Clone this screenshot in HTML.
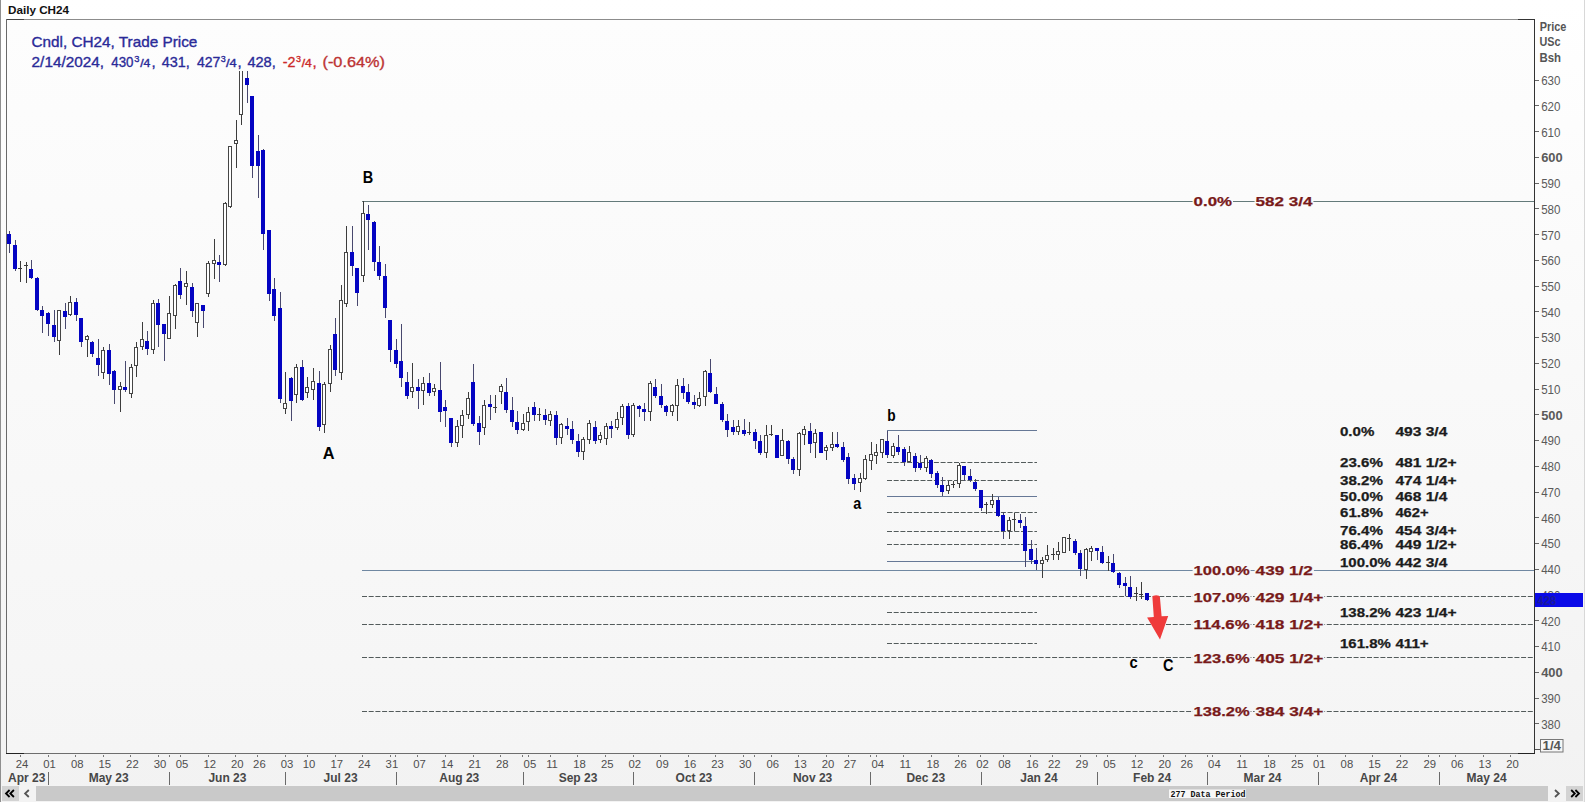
<!DOCTYPE html>
<html><head><meta charset="utf-8"><title>Daily CH24</title>
<style>html,body{margin:0;padding:0;background:#fff}body{width:1585px;height:802px;overflow:hidden}svg{display:block}text{font-family:"Liberation Sans",sans-serif}</style>
</head><body>
<svg width="1585" height="802" viewBox="0 0 1585 802">
<defs><linearGradient id="bg" x1="0" y1="0" x2="0" y2="1"><stop offset="0" stop-color="#ffffff"/><stop offset="1" stop-color="#f2f2f2"/></linearGradient><linearGradient id="cbg" gradientUnits="userSpaceOnUse" x1="0" y1="20" x2="0" y2="753"><stop offset="0" stop-color="#fdfdfd"/><stop offset="1" stop-color="#f5f5f5"/></linearGradient><clipPath id="plot"><rect x="7" y="20" width="1527" height="733"/></clipPath></defs>
<rect x="0" y="0" width="1585" height="802" fill="url(#bg)"/>
<rect x="0" y="0" width="1" height="802" fill="#8f8f8f"/>
<rect x="1584" y="0" width="1" height="802" fill="#d8d8d8"/>
<text x="8.0" y="14.0" font-size="11" fill="#111" font-weight="bold" textLength="61.0" lengthAdjust="spacingAndGlyphs">Daily CH24</text>
<rect x="7" y="20" width="1527" height="733" fill="url(#cbg)"/>
<rect x="362" y="201" width="1172" height="1" fill="#647a7a"/>
<rect x="362" y="570" width="1172" height="1" fill="#7088a2"/>
<line x1="362" y1="596.5" x2="1534" y2="596.5" stroke="#535b5b" stroke-width="1" stroke-dasharray="5 1.7"/>
<line x1="362" y1="624.5" x2="1534" y2="624.5" stroke="#535b5b" stroke-width="1" stroke-dasharray="5 1.7"/>
<line x1="362" y1="657.5" x2="1534" y2="657.5" stroke="#535b5b" stroke-width="1" stroke-dasharray="5 1.7"/>
<line x1="362" y1="711.5" x2="1534" y2="711.5" stroke="#535b5b" stroke-width="1" stroke-dasharray="5 1.7"/>
<rect x="887" y="430" width="150" height="1" fill="#667896"/>
<line x1="887" y1="462.5" x2="1037" y2="462.5" stroke="#535b5b" stroke-width="1" stroke-dasharray="5 1.7"/>
<line x1="887" y1="480.5" x2="1037" y2="480.5" stroke="#535b5b" stroke-width="1" stroke-dasharray="5 1.7"/>
<rect x="887" y="496" width="150" height="1" fill="#667896"/>
<line x1="887" y1="512.5" x2="1037" y2="512.5" stroke="#535b5b" stroke-width="1" stroke-dasharray="5 1.7"/>
<line x1="887" y1="531.5" x2="1037" y2="531.5" stroke="#535b5b" stroke-width="1" stroke-dasharray="5 1.7"/>
<line x1="887" y1="544.5" x2="1037" y2="544.5" stroke="#535b5b" stroke-width="1" stroke-dasharray="5 1.7"/>
<rect x="887" y="561" width="150" height="1" fill="#667896"/>
<line x1="887" y1="612.5" x2="1037" y2="612.5" stroke="#535b5b" stroke-width="1" stroke-dasharray="5 1.7"/>
<line x1="887" y1="643.5" x2="1037" y2="643.5" stroke="#535b5b" stroke-width="1" stroke-dasharray="5 1.7"/>
<g clip-path="url(#plot)" shape-rendering="crispEdges">
<rect x="9" y="231" width="1" height="22" fill="#48486e"/>
<rect x="7" y="234" width="4" height="10" fill="#0404c2"/>
<rect x="15" y="240" width="1" height="31" fill="#48486e"/>
<rect x="13" y="245" width="4" height="24" fill="#0404c2"/>
<rect x="20" y="261" width="1" height="21" fill="#3c3c3c"/>
<rect x="18" y="268" width="4" height="1" fill="#3c3c3c"/>
<rect x="26" y="262" width="1" height="21" fill="#3c3c3c"/>
<rect x="24" y="265" width="4" height="1" fill="#3c3c3c"/>
<rect x="31" y="260" width="1" height="19" fill="#48486e"/>
<rect x="29" y="269" width="4" height="9" fill="#0404c2"/>
<rect x="37" y="277" width="1" height="34" fill="#48486e"/>
<rect x="35" y="278" width="4" height="32" fill="#0404c2"/>
<rect x="42" y="306" width="1" height="27" fill="#48486e"/>
<rect x="40" y="310" width="4" height="6" fill="#0404c2"/>
<rect x="48" y="312" width="1" height="24" fill="#48486e"/>
<rect x="46" y="313" width="4" height="11" fill="#0404c2"/>
<rect x="54" y="310" width="1" height="32" fill="#48486e"/>
<rect x="52" y="325" width="4" height="12" fill="#0404c2"/>
<rect x="59" y="310" width="1" height="45" fill="#3c3c3c"/>
<rect x="57.5" y="310.5" width="3" height="30" fill="#ffffff" stroke="#454545" stroke-width="1"/>
<rect x="65" y="303" width="1" height="26" fill="#48486e"/>
<rect x="63" y="311" width="4" height="6" fill="#0404c2"/>
<rect x="70" y="296" width="1" height="20" fill="#3c3c3c"/>
<rect x="68.5" y="302.5" width="3" height="12" fill="#ffffff" stroke="#454545" stroke-width="1"/>
<rect x="76" y="298" width="1" height="23" fill="#48486e"/>
<rect x="74" y="302" width="4" height="13" fill="#0404c2"/>
<rect x="81" y="318" width="1" height="29" fill="#48486e"/>
<rect x="79" y="318" width="4" height="24" fill="#0404c2"/>
<rect x="87" y="335" width="1" height="22" fill="#3c3c3c"/>
<rect x="85.5" y="336.5" width="3" height="3" fill="#ffffff" stroke="#454545" stroke-width="1"/>
<rect x="92" y="341" width="1" height="16" fill="#48486e"/>
<rect x="90" y="342" width="4" height="12" fill="#0404c2"/>
<rect x="98" y="339" width="1" height="37" fill="#48486e"/>
<rect x="96" y="358" width="4" height="7" fill="#0404c2"/>
<rect x="103" y="347" width="1" height="32" fill="#3c3c3c"/>
<rect x="101.5" y="350.5" width="3" height="22" fill="#ffffff" stroke="#454545" stroke-width="1"/>
<rect x="109" y="344" width="1" height="41" fill="#48486e"/>
<rect x="107" y="350" width="4" height="24" fill="#0404c2"/>
<rect x="114" y="370" width="1" height="34" fill="#48486e"/>
<rect x="112" y="371" width="4" height="19" fill="#0404c2"/>
<rect x="120" y="382" width="1" height="30" fill="#3c3c3c"/>
<rect x="118.5" y="386.5" width="3" height="3" fill="#ffffff" stroke="#454545" stroke-width="1"/>
<rect x="125" y="361" width="1" height="31" fill="#48486e"/>
<rect x="123" y="387" width="4" height="3" fill="#0404c2"/>
<rect x="131" y="364" width="1" height="34" fill="#3c3c3c"/>
<rect x="129.5" y="367.5" width="3" height="26" fill="#ffffff" stroke="#454545" stroke-width="1"/>
<rect x="136" y="342" width="1" height="35" fill="#3c3c3c"/>
<rect x="134.5" y="347.5" width="3" height="18" fill="#ffffff" stroke="#454545" stroke-width="1"/>
<rect x="142" y="322" width="1" height="28" fill="#3c3c3c"/>
<rect x="140.5" y="339.5" width="3" height="7" fill="#ffffff" stroke="#454545" stroke-width="1"/>
<rect x="147" y="331" width="1" height="24" fill="#48486e"/>
<rect x="145" y="341" width="4" height="8" fill="#0404c2"/>
<rect x="153" y="300" width="1" height="54" fill="#3c3c3c"/>
<rect x="151.5" y="303.5" width="3" height="46" fill="#ffffff" stroke="#454545" stroke-width="1"/>
<rect x="158" y="299" width="1" height="48" fill="#48486e"/>
<rect x="156" y="303" width="4" height="22" fill="#0404c2"/>
<rect x="164" y="324" width="1" height="37" fill="#48486e"/>
<rect x="162" y="324" width="4" height="10" fill="#0404c2"/>
<rect x="169" y="296" width="1" height="43" fill="#3c3c3c"/>
<rect x="167.5" y="313.5" width="3" height="25" fill="#ffffff" stroke="#454545" stroke-width="1"/>
<rect x="175" y="284" width="1" height="45" fill="#3c3c3c"/>
<rect x="173.5" y="285.5" width="3" height="30" fill="#ffffff" stroke="#454545" stroke-width="1"/>
<rect x="180" y="268" width="1" height="31" fill="#48486e"/>
<rect x="178" y="281" width="4" height="14" fill="#0404c2"/>
<rect x="186" y="271" width="1" height="34" fill="#3c3c3c"/>
<rect x="184.5" y="283.5" width="3" height="3" fill="#ffffff" stroke="#454545" stroke-width="1"/>
<rect x="192" y="283" width="1" height="34" fill="#48486e"/>
<rect x="190" y="287" width="4" height="24" fill="#0404c2"/>
<rect x="197" y="303" width="1" height="34" fill="#3c3c3c"/>
<rect x="195.5" y="303.5" width="3" height="19" fill="#ffffff" stroke="#454545" stroke-width="1"/>
<rect x="203" y="305" width="1" height="23" fill="#48486e"/>
<rect x="201" y="305" width="4" height="6" fill="#0404c2"/>
<rect x="208" y="261" width="1" height="36" fill="#3c3c3c"/>
<rect x="206.5" y="263.5" width="3" height="30" fill="#ffffff" stroke="#454545" stroke-width="1"/>
<rect x="214" y="239" width="1" height="40" fill="#3c3c3c"/>
<rect x="212.5" y="260.5" width="3" height="3" fill="#ffffff" stroke="#454545" stroke-width="1"/>
<rect x="219" y="255" width="1" height="27" fill="#48486e"/>
<rect x="217" y="262" width="4" height="3" fill="#0404c2"/>
<rect x="225" y="202" width="1" height="64" fill="#3c3c3c"/>
<rect x="223.5" y="203.5" width="3" height="61" fill="#ffffff" stroke="#454545" stroke-width="1"/>
<rect x="230" y="146" width="1" height="62" fill="#3c3c3c"/>
<rect x="228.5" y="146.5" width="3" height="60" fill="#ffffff" stroke="#454545" stroke-width="1"/>
<rect x="236" y="120" width="1" height="48" fill="#3c3c3c"/>
<rect x="234.5" y="140.5" width="3" height="3" fill="#ffffff" stroke="#454545" stroke-width="1"/>
<rect x="241" y="55" width="1" height="70" fill="#3c3c3c"/>
<rect x="239.5" y="62.5" width="3" height="52" fill="#ffffff" stroke="#454545" stroke-width="1"/>
<rect x="247" y="68" width="1" height="35" fill="#48486e"/>
<rect x="245" y="78" width="4" height="7" fill="#0404c2"/>
<rect x="252" y="96" width="1" height="82" fill="#48486e"/>
<rect x="250" y="96" width="4" height="70" fill="#0404c2"/>
<rect x="258" y="135" width="1" height="63" fill="#48486e"/>
<rect x="256" y="151" width="4" height="15" fill="#0404c2"/>
<rect x="263" y="149" width="1" height="101" fill="#48486e"/>
<rect x="261" y="150" width="4" height="84" fill="#0404c2"/>
<rect x="269" y="230" width="1" height="71" fill="#48486e"/>
<rect x="267" y="230" width="4" height="64" fill="#0404c2"/>
<rect x="274" y="278" width="1" height="43" fill="#48486e"/>
<rect x="272" y="289" width="4" height="27" fill="#0404c2"/>
<rect x="280" y="292" width="1" height="111" fill="#48486e"/>
<rect x="278" y="308" width="4" height="91" fill="#0404c2"/>
<rect x="285" y="372" width="1" height="42" fill="#3c3c3c"/>
<rect x="283.5" y="403.5" width="3" height="5" fill="#ffffff" stroke="#454545" stroke-width="1"/>
<rect x="291" y="377" width="1" height="44" fill="#48486e"/>
<rect x="289" y="378" width="4" height="23" fill="#0404c2"/>
<rect x="296" y="364" width="1" height="39" fill="#3c3c3c"/>
<rect x="294.5" y="367.5" width="3" height="27" fill="#ffffff" stroke="#454545" stroke-width="1"/>
<rect x="302" y="360" width="1" height="41" fill="#48486e"/>
<rect x="300" y="367" width="4" height="33" fill="#0404c2"/>
<rect x="307" y="377" width="1" height="21" fill="#3c3c3c"/>
<rect x="305.5" y="387.5" width="3" height="5" fill="#ffffff" stroke="#454545" stroke-width="1"/>
<rect x="313" y="368" width="1" height="32" fill="#3c3c3c"/>
<rect x="311.5" y="381.5" width="3" height="8" fill="#ffffff" stroke="#454545" stroke-width="1"/>
<rect x="319" y="371" width="1" height="60" fill="#48486e"/>
<rect x="317" y="383" width="4" height="44" fill="#0404c2"/>
<rect x="324" y="382" width="1" height="51" fill="#3c3c3c"/>
<rect x="322.5" y="384.5" width="3" height="40" fill="#ffffff" stroke="#454545" stroke-width="1"/>
<rect x="330" y="345" width="1" height="47" fill="#3c3c3c"/>
<rect x="328.5" y="349.5" width="3" height="34" fill="#ffffff" stroke="#454545" stroke-width="1"/>
<rect x="335" y="318" width="1" height="58" fill="#48486e"/>
<rect x="333" y="334" width="4" height="36" fill="#0404c2"/>
<rect x="341" y="285" width="1" height="95" fill="#3c3c3c"/>
<rect x="339.5" y="300.5" width="3" height="72" fill="#ffffff" stroke="#454545" stroke-width="1"/>
<rect x="346" y="226" width="1" height="81" fill="#3c3c3c"/>
<rect x="344.5" y="252.5" width="3" height="51" fill="#ffffff" stroke="#454545" stroke-width="1"/>
<rect x="352" y="226" width="1" height="50" fill="#48486e"/>
<rect x="350" y="252" width="4" height="14" fill="#0404c2"/>
<rect x="357" y="268" width="1" height="38" fill="#48486e"/>
<rect x="355" y="268" width="4" height="25" fill="#0404c2"/>
<rect x="363" y="201" width="1" height="81" fill="#3c3c3c"/>
<rect x="361.5" y="213.5" width="3" height="62" fill="#ffffff" stroke="#454545" stroke-width="1"/>
<rect x="368" y="205" width="1" height="45" fill="#48486e"/>
<rect x="366" y="214" width="4" height="6" fill="#0404c2"/>
<rect x="374" y="221" width="1" height="50" fill="#48486e"/>
<rect x="372" y="222" width="4" height="40" fill="#0404c2"/>
<rect x="379" y="246" width="1" height="34" fill="#48486e"/>
<rect x="377" y="262" width="4" height="14" fill="#0404c2"/>
<rect x="385" y="264" width="1" height="54" fill="#48486e"/>
<rect x="383" y="276" width="4" height="32" fill="#0404c2"/>
<rect x="390" y="320" width="1" height="42" fill="#48486e"/>
<rect x="388" y="320" width="4" height="30" fill="#0404c2"/>
<rect x="396" y="339" width="1" height="29" fill="#48486e"/>
<rect x="394" y="350" width="4" height="14" fill="#0404c2"/>
<rect x="401" y="324" width="1" height="63" fill="#48486e"/>
<rect x="399" y="361" width="4" height="17" fill="#0404c2"/>
<rect x="407" y="372" width="1" height="27" fill="#48486e"/>
<rect x="405" y="382" width="4" height="14" fill="#0404c2"/>
<rect x="412" y="363" width="1" height="35" fill="#3c3c3c"/>
<rect x="410.5" y="387.5" width="3" height="4" fill="#ffffff" stroke="#454545" stroke-width="1"/>
<rect x="418" y="379" width="1" height="30" fill="#48486e"/>
<rect x="416" y="387" width="4" height="4" fill="#0404c2"/>
<rect x="423" y="377" width="1" height="28" fill="#3c3c3c"/>
<rect x="421.5" y="383.5" width="3" height="7" fill="#ffffff" stroke="#454545" stroke-width="1"/>
<rect x="429" y="373" width="1" height="23" fill="#48486e"/>
<rect x="427" y="383" width="4" height="10" fill="#0404c2"/>
<rect x="434" y="384" width="1" height="12" fill="#3c3c3c"/>
<rect x="432.5" y="388.5" width="3" height="3" fill="#ffffff" stroke="#454545" stroke-width="1"/>
<rect x="440" y="362" width="1" height="60" fill="#48486e"/>
<rect x="438" y="390" width="4" height="22" fill="#0404c2"/>
<rect x="445" y="400" width="1" height="27" fill="#48486e"/>
<rect x="443" y="407" width="4" height="4" fill="#0404c2"/>
<rect x="451" y="418" width="1" height="29" fill="#48486e"/>
<rect x="449" y="418" width="4" height="25" fill="#0404c2"/>
<rect x="457" y="420" width="1" height="27" fill="#3c3c3c"/>
<rect x="455.5" y="426.5" width="3" height="16" fill="#ffffff" stroke="#454545" stroke-width="1"/>
<rect x="462" y="410" width="1" height="28" fill="#3c3c3c"/>
<rect x="460.5" y="415.5" width="3" height="10" fill="#ffffff" stroke="#454545" stroke-width="1"/>
<rect x="468" y="392" width="1" height="27" fill="#3c3c3c"/>
<rect x="466.5" y="398.5" width="3" height="16" fill="#ffffff" stroke="#454545" stroke-width="1"/>
<rect x="473" y="364" width="1" height="62" fill="#48486e"/>
<rect x="471" y="382" width="4" height="42" fill="#0404c2"/>
<rect x="479" y="416" width="1" height="29" fill="#48486e"/>
<rect x="477" y="423" width="4" height="9" fill="#0404c2"/>
<rect x="484" y="400" width="1" height="35" fill="#3c3c3c"/>
<rect x="482.5" y="405.5" width="3" height="22" fill="#ffffff" stroke="#454545" stroke-width="1"/>
<rect x="490" y="395" width="1" height="25" fill="#48486e"/>
<rect x="488" y="404" width="4" height="3" fill="#0404c2"/>
<rect x="495" y="395" width="1" height="18" fill="#3c3c3c"/>
<rect x="493" y="407" width="4" height="1" fill="#3c3c3c"/>
<rect x="501" y="384" width="1" height="20" fill="#3c3c3c"/>
<rect x="499.5" y="386.5" width="3" height="5" fill="#ffffff" stroke="#454545" stroke-width="1"/>
<rect x="506" y="378" width="1" height="35" fill="#48486e"/>
<rect x="504" y="392" width="4" height="18" fill="#0404c2"/>
<rect x="512" y="397" width="1" height="30" fill="#48486e"/>
<rect x="510" y="410" width="4" height="12" fill="#0404c2"/>
<rect x="517" y="411" width="1" height="23" fill="#48486e"/>
<rect x="515" y="422" width="4" height="8" fill="#0404c2"/>
<rect x="523" y="414" width="1" height="17" fill="#3c3c3c"/>
<rect x="521.5" y="423.5" width="3" height="6" fill="#ffffff" stroke="#454545" stroke-width="1"/>
<rect x="528" y="407" width="1" height="24" fill="#3c3c3c"/>
<rect x="526.5" y="412.5" width="3" height="9" fill="#ffffff" stroke="#454545" stroke-width="1"/>
<rect x="534" y="402" width="1" height="19" fill="#48486e"/>
<rect x="532" y="407" width="4" height="8" fill="#0404c2"/>
<rect x="539" y="408" width="1" height="13" fill="#3c3c3c"/>
<rect x="537" y="414" width="4" height="1" fill="#3c3c3c"/>
<rect x="545" y="409" width="1" height="16" fill="#48486e"/>
<rect x="543" y="415" width="4" height="5" fill="#0404c2"/>
<rect x="550" y="411" width="1" height="15" fill="#3c3c3c"/>
<rect x="548.5" y="414.5" width="3" height="6" fill="#ffffff" stroke="#454545" stroke-width="1"/>
<rect x="556" y="411" width="1" height="34" fill="#48486e"/>
<rect x="554" y="415" width="4" height="23" fill="#0404c2"/>
<rect x="561" y="423" width="1" height="21" fill="#3c3c3c"/>
<rect x="559.5" y="424.5" width="3" height="13" fill="#ffffff" stroke="#454545" stroke-width="1"/>
<rect x="567" y="418" width="1" height="17" fill="#48486e"/>
<rect x="565" y="426" width="4" height="3" fill="#0404c2"/>
<rect x="572" y="421" width="1" height="23" fill="#48486e"/>
<rect x="570" y="429" width="4" height="11" fill="#0404c2"/>
<rect x="578" y="434" width="1" height="23" fill="#48486e"/>
<rect x="576" y="441" width="4" height="11" fill="#0404c2"/>
<rect x="583" y="437" width="1" height="23" fill="#3c3c3c"/>
<rect x="581.5" y="439.5" width="3" height="12" fill="#ffffff" stroke="#454545" stroke-width="1"/>
<rect x="589" y="420" width="1" height="24" fill="#3c3c3c"/>
<rect x="587.5" y="423.5" width="3" height="16" fill="#ffffff" stroke="#454545" stroke-width="1"/>
<rect x="595" y="421" width="1" height="23" fill="#48486e"/>
<rect x="593" y="427" width="4" height="14" fill="#0404c2"/>
<rect x="600" y="432" width="1" height="11" fill="#3c3c3c"/>
<rect x="598.5" y="435.5" width="3" height="4" fill="#ffffff" stroke="#454545" stroke-width="1"/>
<rect x="606" y="423" width="1" height="22" fill="#3c3c3c"/>
<rect x="604.5" y="426.5" width="3" height="12" fill="#ffffff" stroke="#454545" stroke-width="1"/>
<rect x="611" y="421" width="1" height="17" fill="#48486e"/>
<rect x="609" y="426" width="4" height="3" fill="#0404c2"/>
<rect x="617" y="412" width="1" height="18" fill="#3c3c3c"/>
<rect x="615.5" y="419.5" width="3" height="8" fill="#ffffff" stroke="#454545" stroke-width="1"/>
<rect x="622" y="404" width="1" height="21" fill="#3c3c3c"/>
<rect x="620.5" y="406.5" width="3" height="11" fill="#ffffff" stroke="#454545" stroke-width="1"/>
<rect x="628" y="403" width="1" height="36" fill="#48486e"/>
<rect x="626" y="406" width="4" height="29" fill="#0404c2"/>
<rect x="633" y="403" width="1" height="34" fill="#3c3c3c"/>
<rect x="631.5" y="405.5" width="3" height="29" fill="#ffffff" stroke="#454545" stroke-width="1"/>
<rect x="639" y="405" width="1" height="12" fill="#48486e"/>
<rect x="637" y="406" width="4" height="3" fill="#0404c2"/>
<rect x="644" y="403" width="1" height="18" fill="#48486e"/>
<rect x="642" y="409" width="4" height="3" fill="#0404c2"/>
<rect x="650" y="381" width="1" height="40" fill="#3c3c3c"/>
<rect x="648.5" y="383.5" width="3" height="28" fill="#ffffff" stroke="#454545" stroke-width="1"/>
<rect x="655" y="379" width="1" height="19" fill="#48486e"/>
<rect x="653" y="387" width="4" height="9" fill="#0404c2"/>
<rect x="661" y="384" width="1" height="24" fill="#48486e"/>
<rect x="659" y="396" width="4" height="9" fill="#0404c2"/>
<rect x="666" y="405" width="1" height="11" fill="#48486e"/>
<rect x="664" y="406" width="4" height="6" fill="#0404c2"/>
<rect x="672" y="404" width="1" height="12" fill="#3c3c3c"/>
<rect x="670.5" y="405.5" width="3" height="6" fill="#ffffff" stroke="#454545" stroke-width="1"/>
<rect x="677" y="379" width="1" height="42" fill="#3c3c3c"/>
<rect x="675.5" y="385.5" width="3" height="20" fill="#ffffff" stroke="#454545" stroke-width="1"/>
<rect x="683" y="378" width="1" height="21" fill="#48486e"/>
<rect x="681" y="386" width="4" height="7" fill="#0404c2"/>
<rect x="688" y="384" width="1" height="20" fill="#48486e"/>
<rect x="686" y="392" width="4" height="10" fill="#0404c2"/>
<rect x="694" y="395" width="1" height="14" fill="#48486e"/>
<rect x="692" y="402" width="4" height="3" fill="#0404c2"/>
<rect x="699" y="392" width="1" height="15" fill="#3c3c3c"/>
<rect x="697.5" y="398.5" width="3" height="7" fill="#ffffff" stroke="#454545" stroke-width="1"/>
<rect x="705" y="370" width="1" height="36" fill="#3c3c3c"/>
<rect x="703.5" y="371.5" width="3" height="25" fill="#ffffff" stroke="#454545" stroke-width="1"/>
<rect x="710" y="359" width="1" height="34" fill="#48486e"/>
<rect x="708" y="373" width="4" height="19" fill="#0404c2"/>
<rect x="716" y="387" width="1" height="17" fill="#48486e"/>
<rect x="714" y="394" width="4" height="10" fill="#0404c2"/>
<rect x="722" y="402" width="1" height="20" fill="#48486e"/>
<rect x="720" y="404" width="4" height="16" fill="#0404c2"/>
<rect x="727" y="414" width="1" height="23" fill="#48486e"/>
<rect x="725" y="421" width="4" height="9" fill="#0404c2"/>
<rect x="733" y="420" width="1" height="15" fill="#48486e"/>
<rect x="731" y="427" width="4" height="5" fill="#0404c2"/>
<rect x="738" y="420" width="1" height="15" fill="#3c3c3c"/>
<rect x="736.5" y="426.5" width="3" height="5" fill="#ffffff" stroke="#454545" stroke-width="1"/>
<rect x="744" y="419" width="1" height="17" fill="#48486e"/>
<rect x="742" y="430" width="4" height="4" fill="#0404c2"/>
<rect x="749" y="422" width="1" height="13" fill="#3c3c3c"/>
<rect x="747" y="432" width="4" height="1" fill="#3c3c3c"/>
<rect x="755" y="429" width="1" height="20" fill="#48486e"/>
<rect x="753" y="432" width="4" height="9" fill="#0404c2"/>
<rect x="760" y="435" width="1" height="20" fill="#48486e"/>
<rect x="758" y="441" width="4" height="12" fill="#0404c2"/>
<rect x="766" y="425" width="1" height="33" fill="#3c3c3c"/>
<rect x="764.5" y="435.5" width="3" height="17" fill="#ffffff" stroke="#454545" stroke-width="1"/>
<rect x="771" y="425" width="1" height="11" fill="#3c3c3c"/>
<rect x="769" y="434" width="4" height="1" fill="#3c3c3c"/>
<rect x="777" y="435" width="1" height="23" fill="#48486e"/>
<rect x="775" y="435" width="4" height="23" fill="#0404c2"/>
<rect x="782" y="429" width="1" height="27" fill="#3c3c3c"/>
<rect x="780.5" y="440.5" width="3" height="15" fill="#ffffff" stroke="#454545" stroke-width="1"/>
<rect x="788" y="440" width="1" height="24" fill="#48486e"/>
<rect x="786" y="441" width="4" height="18" fill="#0404c2"/>
<rect x="793" y="457" width="1" height="17" fill="#48486e"/>
<rect x="791" y="459" width="4" height="11" fill="#0404c2"/>
<rect x="799" y="432" width="1" height="44" fill="#3c3c3c"/>
<rect x="797.5" y="433.5" width="3" height="36" fill="#ffffff" stroke="#454545" stroke-width="1"/>
<rect x="804" y="426" width="1" height="19" fill="#3c3c3c"/>
<rect x="802.5" y="429.5" width="3" height="5" fill="#ffffff" stroke="#454545" stroke-width="1"/>
<rect x="810" y="423" width="1" height="30" fill="#48486e"/>
<rect x="808" y="431" width="4" height="13" fill="#0404c2"/>
<rect x="815" y="429" width="1" height="29" fill="#3c3c3c"/>
<rect x="813.5" y="433.5" width="3" height="9" fill="#ffffff" stroke="#454545" stroke-width="1"/>
<rect x="821" y="432" width="1" height="21" fill="#48486e"/>
<rect x="819" y="432" width="4" height="21" fill="#0404c2"/>
<rect x="826" y="445" width="1" height="15" fill="#3c3c3c"/>
<rect x="824.5" y="447.5" width="3" height="3" fill="#ffffff" stroke="#454545" stroke-width="1"/>
<rect x="832" y="432" width="1" height="19" fill="#3c3c3c"/>
<rect x="830.5" y="444.5" width="3" height="3" fill="#ffffff" stroke="#454545" stroke-width="1"/>
<rect x="837" y="432" width="1" height="16" fill="#48486e"/>
<rect x="835" y="444" width="4" height="3" fill="#0404c2"/>
<rect x="843" y="442" width="1" height="20" fill="#48486e"/>
<rect x="841" y="447" width="4" height="13" fill="#0404c2"/>
<rect x="848" y="453" width="1" height="31" fill="#48486e"/>
<rect x="846" y="457" width="4" height="22" fill="#0404c2"/>
<rect x="854" y="474" width="1" height="16" fill="#48486e"/>
<rect x="852" y="478" width="4" height="6" fill="#0404c2"/>
<rect x="860" y="473" width="1" height="19" fill="#3c3c3c"/>
<rect x="858.5" y="478.5" width="3" height="4" fill="#ffffff" stroke="#454545" stroke-width="1"/>
<rect x="865" y="455" width="1" height="25" fill="#3c3c3c"/>
<rect x="863.5" y="459.5" width="3" height="19" fill="#ffffff" stroke="#454545" stroke-width="1"/>
<rect x="871" y="442" width="1" height="28" fill="#3c3c3c"/>
<rect x="869.5" y="454.5" width="3" height="6" fill="#ffffff" stroke="#454545" stroke-width="1"/>
<rect x="876" y="444" width="1" height="20" fill="#3c3c3c"/>
<rect x="874.5" y="452.5" width="3" height="3" fill="#ffffff" stroke="#454545" stroke-width="1"/>
<rect x="882" y="439" width="1" height="19" fill="#3c3c3c"/>
<rect x="880.5" y="439.5" width="3" height="13" fill="#ffffff" stroke="#454545" stroke-width="1"/>
<rect x="887" y="431" width="1" height="27" fill="#48486e"/>
<rect x="885" y="441" width="4" height="14" fill="#0404c2"/>
<rect x="893" y="443" width="1" height="15" fill="#3c3c3c"/>
<rect x="891.5" y="446.5" width="3" height="9" fill="#ffffff" stroke="#454545" stroke-width="1"/>
<rect x="898" y="435" width="1" height="20" fill="#48486e"/>
<rect x="896" y="447" width="4" height="5" fill="#0404c2"/>
<rect x="904" y="447" width="1" height="19" fill="#48486e"/>
<rect x="902" y="449" width="4" height="13" fill="#0404c2"/>
<rect x="909" y="446" width="1" height="16" fill="#3c3c3c"/>
<rect x="907.5" y="452.5" width="3" height="9" fill="#ffffff" stroke="#454545" stroke-width="1"/>
<rect x="915" y="453" width="1" height="19" fill="#48486e"/>
<rect x="913" y="456" width="4" height="12" fill="#0404c2"/>
<rect x="920" y="455" width="1" height="15" fill="#48486e"/>
<rect x="918" y="463" width="4" height="5" fill="#0404c2"/>
<rect x="926" y="456" width="1" height="16" fill="#3c3c3c"/>
<rect x="924.5" y="458.5" width="3" height="9" fill="#ffffff" stroke="#454545" stroke-width="1"/>
<rect x="931" y="459" width="1" height="19" fill="#48486e"/>
<rect x="929" y="460" width="4" height="14" fill="#0404c2"/>
<rect x="937" y="471" width="1" height="17" fill="#48486e"/>
<rect x="935" y="473" width="4" height="12" fill="#0404c2"/>
<rect x="942" y="477" width="1" height="19" fill="#48486e"/>
<rect x="940" y="485" width="4" height="7" fill="#0404c2"/>
<rect x="948" y="481" width="1" height="13" fill="#3c3c3c"/>
<rect x="946.5" y="485.5" width="3" height="5" fill="#ffffff" stroke="#454545" stroke-width="1"/>
<rect x="953" y="481" width="1" height="7" fill="#3c3c3c"/>
<rect x="951" y="484" width="4" height="1" fill="#3c3c3c"/>
<rect x="959" y="463" width="1" height="25" fill="#3c3c3c"/>
<rect x="957.5" y="465.5" width="3" height="18" fill="#ffffff" stroke="#454545" stroke-width="1"/>
<rect x="964" y="466" width="1" height="15" fill="#48486e"/>
<rect x="962" y="466" width="4" height="9" fill="#0404c2"/>
<rect x="970" y="469" width="1" height="13" fill="#48486e"/>
<rect x="968" y="476" width="4" height="4" fill="#0404c2"/>
<rect x="975" y="479" width="1" height="12" fill="#48486e"/>
<rect x="973" y="482" width="4" height="7" fill="#0404c2"/>
<rect x="981" y="490" width="1" height="21" fill="#48486e"/>
<rect x="979" y="490" width="4" height="18" fill="#0404c2"/>
<rect x="986" y="502" width="1" height="12" fill="#3c3c3c"/>
<rect x="984" y="504" width="4" height="1" fill="#3c3c3c"/>
<rect x="992" y="494" width="1" height="14" fill="#3c3c3c"/>
<rect x="990.5" y="500.5" width="3" height="4" fill="#ffffff" stroke="#454545" stroke-width="1"/>
<rect x="998" y="497" width="1" height="20" fill="#48486e"/>
<rect x="996" y="500" width="4" height="16" fill="#0404c2"/>
<rect x="1003" y="512" width="1" height="27" fill="#48486e"/>
<rect x="1001" y="515" width="4" height="16" fill="#0404c2"/>
<rect x="1009" y="517" width="1" height="22" fill="#3c3c3c"/>
<rect x="1007.5" y="520.5" width="3" height="10" fill="#ffffff" stroke="#454545" stroke-width="1"/>
<rect x="1014" y="513" width="1" height="18" fill="#3c3c3c"/>
<rect x="1012" y="519" width="4" height="1" fill="#3c3c3c"/>
<rect x="1020" y="514" width="1" height="14" fill="#48486e"/>
<rect x="1018" y="520" width="4" height="3" fill="#0404c2"/>
<rect x="1025" y="517" width="1" height="50" fill="#48486e"/>
<rect x="1023" y="526" width="4" height="25" fill="#0404c2"/>
<rect x="1031" y="540" width="1" height="24" fill="#48486e"/>
<rect x="1029" y="549" width="4" height="11" fill="#0404c2"/>
<rect x="1036" y="548" width="1" height="22" fill="#48486e"/>
<rect x="1034" y="560" width="4" height="4" fill="#0404c2"/>
<rect x="1042" y="557" width="1" height="21" fill="#3c3c3c"/>
<rect x="1040.5" y="560.5" width="3" height="3" fill="#ffffff" stroke="#454545" stroke-width="1"/>
<rect x="1047" y="545" width="1" height="17" fill="#3c3c3c"/>
<rect x="1045.5" y="555.5" width="3" height="4" fill="#ffffff" stroke="#454545" stroke-width="1"/>
<rect x="1053" y="548" width="1" height="12" fill="#3c3c3c"/>
<rect x="1051" y="554" width="4" height="1" fill="#3c3c3c"/>
<rect x="1058" y="542" width="1" height="18" fill="#3c3c3c"/>
<rect x="1056.5" y="551.5" width="3" height="3" fill="#ffffff" stroke="#454545" stroke-width="1"/>
<rect x="1064" y="537" width="1" height="16" fill="#3c3c3c"/>
<rect x="1062.5" y="537.5" width="3" height="15" fill="#ffffff" stroke="#454545" stroke-width="1"/>
<rect x="1069" y="534" width="1" height="17" fill="#3c3c3c"/>
<rect x="1067" y="538" width="4" height="1" fill="#3c3c3c"/>
<rect x="1075" y="539" width="1" height="16" fill="#48486e"/>
<rect x="1073" y="541" width="4" height="12" fill="#0404c2"/>
<rect x="1080" y="550" width="1" height="26" fill="#48486e"/>
<rect x="1078" y="553" width="4" height="16" fill="#0404c2"/>
<rect x="1086" y="548" width="1" height="31" fill="#3c3c3c"/>
<rect x="1084.5" y="549.5" width="3" height="20" fill="#ffffff" stroke="#454545" stroke-width="1"/>
<rect x="1091" y="546" width="1" height="15" fill="#3c3c3c"/>
<rect x="1089.5" y="548.5" width="3" height="3" fill="#ffffff" stroke="#454545" stroke-width="1"/>
<rect x="1097" y="548" width="1" height="12" fill="#48486e"/>
<rect x="1095" y="548" width="4" height="3" fill="#0404c2"/>
<rect x="1102" y="546" width="1" height="18" fill="#48486e"/>
<rect x="1100" y="552" width="4" height="11" fill="#0404c2"/>
<rect x="1108" y="556" width="1" height="15" fill="#3c3c3c"/>
<rect x="1106" y="562" width="4" height="1" fill="#3c3c3c"/>
<rect x="1113" y="554" width="1" height="19" fill="#48486e"/>
<rect x="1111" y="563" width="4" height="9" fill="#0404c2"/>
<rect x="1119" y="572" width="1" height="16" fill="#48486e"/>
<rect x="1117" y="573" width="4" height="12" fill="#0404c2"/>
<rect x="1125" y="577" width="1" height="19" fill="#48486e"/>
<rect x="1123" y="583" width="4" height="3" fill="#0404c2"/>
<rect x="1130" y="576" width="1" height="23" fill="#48486e"/>
<rect x="1128" y="587" width="4" height="10" fill="#0404c2"/>
<rect x="1136" y="587" width="1" height="14" fill="#3c3c3c"/>
<rect x="1134" y="593" width="4" height="1" fill="#3c3c3c"/>
<rect x="1141" y="582" width="1" height="17" fill="#3c3c3c"/>
<rect x="1139" y="594" width="4" height="1" fill="#3c3c3c"/>
<rect x="1147" y="593" width="1" height="8" fill="#48486e"/>
<rect x="1145" y="593" width="4" height="7" fill="#0404c2"/>
</g>
<rect x="28" y="28" width="362" height="43" fill="url(#cbg)"/>
<g stroke="#2a2a98" stroke-width="0.35">
<text x="31.4" y="46.5" font-size="15" fill="#2a2a98" textLength="166.0" lengthAdjust="spacingAndGlyphs">Cndl, CH24, Trade Price</text>
<text x="31.6" y="66.6" font-size="15" fill="#2a2a98" textLength="72.5" lengthAdjust="spacingAndGlyphs">2/14/2024,</text>
<text x="111.3" y="66.6" font-size="15" fill="#2a2a98" textLength="22.2" lengthAdjust="spacingAndGlyphs">430</text>
<text x="134.3" y="62.2" font-size="9.5" fill="#2a2a98" textLength="5.2" lengthAdjust="spacingAndGlyphs">3</text>
<text x="140.2" y="66.6" font-size="10" fill="#2a2a98" textLength="10.2" lengthAdjust="spacingAndGlyphs">/4</text>
<text x="151.5" y="66.6" font-size="15" fill="#2a2a98">,</text>
<text x="161.7" y="66.6" font-size="15" fill="#2a2a98" textLength="28.1" lengthAdjust="spacingAndGlyphs">431,</text>
<text x="196.9" y="66.6" font-size="15" fill="#2a2a98" textLength="23.4" lengthAdjust="spacingAndGlyphs">427</text>
<text x="220.7" y="62.2" font-size="9.5" fill="#2a2a98" textLength="5.0" lengthAdjust="spacingAndGlyphs">3</text>
<text x="226.0" y="66.6" font-size="10" fill="#2a2a98" textLength="10.7" lengthAdjust="spacingAndGlyphs">/4</text>
<text x="237.5" y="66.6" font-size="15" fill="#2a2a98">,</text>
<text x="247.4" y="66.6" font-size="15" fill="#2a2a98" textLength="28.4" lengthAdjust="spacingAndGlyphs">428,</text>
<text x="282.7" y="66.6" font-size="15" fill="#cc2a2a" textLength="12.7" lengthAdjust="spacingAndGlyphs" stroke="#cc2a2a">-2</text>
<text x="296.0" y="62.2" font-size="9.5" fill="#cc2a2a" textLength="5.0" lengthAdjust="spacingAndGlyphs" stroke="#cc2a2a">3</text>
<text x="301.7" y="66.6" font-size="10" fill="#cc2a2a" textLength="10.1" lengthAdjust="spacingAndGlyphs" stroke="#cc2a2a">/4</text>
<text x="312.6" y="66.6" font-size="15" fill="#cc2a2a" stroke="#cc2a2a">,</text>
<text x="322.5" y="66.6" font-size="15" fill="#c03434" textLength="62.5" lengthAdjust="spacingAndGlyphs" stroke="#b83232">(-0.64%)</text>
</g>
<rect x="6" y="19" width="1529" height="1" fill="#8c8c8c"/>
<rect x="6" y="19" width="18" height="1" fill="#444"/>
<rect x="1518" y="19" width="17" height="1" fill="#333"/>
<rect x="6" y="19" width="1" height="735" fill="#6a6a6a"/>
<rect x="1534" y="19" width="1" height="735" fill="#333"/>
<rect x="6" y="753" width="1529" height="1" fill="#6e6e6e"/>
<rect x="6" y="753" width="18" height="1" fill="#222"/>
<rect x="1518" y="753" width="17" height="1" fill="#222"/>
<rect x="1535" y="723" width="4" height="1" fill="#666"/>
<text x="1541.2" y="728.6" font-size="12" fill="#5a5a5a" textLength="19.3" lengthAdjust="spacingAndGlyphs">380</text>
<rect x="1535" y="698" width="4" height="1" fill="#666"/>
<text x="1541.2" y="702.8" font-size="12" fill="#5a5a5a" textLength="19.3" lengthAdjust="spacingAndGlyphs">390</text>
<rect x="1535" y="672" width="4" height="1" fill="#666"/>
<text x="1541.2" y="677.1" font-size="12" fill="#5a5a5a" font-weight="bold" textLength="21.5" lengthAdjust="spacingAndGlyphs">400</text>
<rect x="1535" y="646" width="4" height="1" fill="#666"/>
<text x="1541.2" y="651.3" font-size="12" fill="#5a5a5a" textLength="19.3" lengthAdjust="spacingAndGlyphs">410</text>
<rect x="1535" y="620" width="4" height="1" fill="#666"/>
<text x="1541.2" y="625.6" font-size="12" fill="#5a5a5a" textLength="19.3" lengthAdjust="spacingAndGlyphs">420</text>
<rect x="1535" y="595" width="4" height="1" fill="#666"/>
<text x="1541.2" y="599.9" font-size="12" fill="#5a5a5a" textLength="19.3" lengthAdjust="spacingAndGlyphs">430</text>
<rect x="1535" y="569" width="4" height="1" fill="#666"/>
<text x="1541.2" y="574.1" font-size="12" fill="#5a5a5a" textLength="19.3" lengthAdjust="spacingAndGlyphs">440</text>
<rect x="1535" y="543" width="4" height="1" fill="#666"/>
<text x="1541.2" y="548.4" font-size="12" fill="#5a5a5a" textLength="19.3" lengthAdjust="spacingAndGlyphs">450</text>
<rect x="1535" y="517" width="4" height="1" fill="#666"/>
<text x="1541.2" y="522.6" font-size="12" fill="#5a5a5a" textLength="19.3" lengthAdjust="spacingAndGlyphs">460</text>
<rect x="1535" y="492" width="4" height="1" fill="#666"/>
<text x="1541.2" y="496.9" font-size="12" fill="#5a5a5a" textLength="19.3" lengthAdjust="spacingAndGlyphs">470</text>
<rect x="1535" y="466" width="4" height="1" fill="#666"/>
<text x="1541.2" y="471.1" font-size="12" fill="#5a5a5a" textLength="19.3" lengthAdjust="spacingAndGlyphs">480</text>
<rect x="1535" y="440" width="4" height="1" fill="#666"/>
<text x="1541.2" y="445.4" font-size="12" fill="#5a5a5a" textLength="19.3" lengthAdjust="spacingAndGlyphs">490</text>
<rect x="1535" y="414" width="4" height="1" fill="#666"/>
<text x="1541.2" y="419.7" font-size="12" fill="#5a5a5a" font-weight="bold" textLength="21.5" lengthAdjust="spacingAndGlyphs">500</text>
<rect x="1535" y="389" width="4" height="1" fill="#666"/>
<text x="1541.2" y="393.9" font-size="12" fill="#5a5a5a" textLength="19.3" lengthAdjust="spacingAndGlyphs">510</text>
<rect x="1535" y="363" width="4" height="1" fill="#666"/>
<text x="1541.2" y="368.2" font-size="12" fill="#5a5a5a" textLength="19.3" lengthAdjust="spacingAndGlyphs">520</text>
<rect x="1535" y="337" width="4" height="1" fill="#666"/>
<text x="1541.2" y="342.4" font-size="12" fill="#5a5a5a" textLength="19.3" lengthAdjust="spacingAndGlyphs">530</text>
<rect x="1535" y="311" width="4" height="1" fill="#666"/>
<text x="1541.2" y="316.7" font-size="12" fill="#5a5a5a" textLength="19.3" lengthAdjust="spacingAndGlyphs">540</text>
<rect x="1535" y="286" width="4" height="1" fill="#666"/>
<text x="1541.2" y="290.9" font-size="12" fill="#5a5a5a" textLength="19.3" lengthAdjust="spacingAndGlyphs">550</text>
<rect x="1535" y="260" width="4" height="1" fill="#666"/>
<text x="1541.2" y="265.2" font-size="12" fill="#5a5a5a" textLength="19.3" lengthAdjust="spacingAndGlyphs">560</text>
<rect x="1535" y="234" width="4" height="1" fill="#666"/>
<text x="1541.2" y="239.5" font-size="12" fill="#5a5a5a" textLength="19.3" lengthAdjust="spacingAndGlyphs">570</text>
<rect x="1535" y="208" width="4" height="1" fill="#666"/>
<text x="1541.2" y="213.7" font-size="12" fill="#5a5a5a" textLength="19.3" lengthAdjust="spacingAndGlyphs">580</text>
<rect x="1535" y="183" width="4" height="1" fill="#666"/>
<text x="1541.2" y="188.0" font-size="12" fill="#5a5a5a" textLength="19.3" lengthAdjust="spacingAndGlyphs">590</text>
<rect x="1535" y="157" width="4" height="1" fill="#666"/>
<text x="1541.2" y="162.2" font-size="12" fill="#5a5a5a" font-weight="bold" textLength="21.5" lengthAdjust="spacingAndGlyphs">600</text>
<rect x="1535" y="131" width="4" height="1" fill="#666"/>
<text x="1541.2" y="136.5" font-size="12" fill="#5a5a5a" textLength="19.3" lengthAdjust="spacingAndGlyphs">610</text>
<rect x="1535" y="105" width="4" height="1" fill="#666"/>
<text x="1541.2" y="110.7" font-size="12" fill="#5a5a5a" textLength="19.3" lengthAdjust="spacingAndGlyphs">620</text>
<rect x="1535" y="80" width="4" height="1" fill="#666"/>
<text x="1541.2" y="85.0" font-size="12" fill="#5a5a5a" textLength="19.3" lengthAdjust="spacingAndGlyphs">630</text>
<rect x="1535" y="749" width="6" height="1" fill="#555"/>
<rect x="1540.5" y="739.5" width="22.5" height="12.5" fill="#f7f7f7" stroke="#777" stroke-width="1"/>
<text x="1542.5" y="749.8" font-size="12" fill="#555" font-weight="bold" textLength="18.5" lengthAdjust="spacingAndGlyphs">1/4</text>
<text x="1539.8" y="30.7" font-size="12" fill="#555" font-weight="bold" textLength="26.6" lengthAdjust="spacingAndGlyphs">Price</text>
<text x="1539.5" y="46.4" font-size="12" fill="#555" font-weight="bold" textLength="21.0" lengthAdjust="spacingAndGlyphs">USc</text>
<text x="1539.5" y="62.0" font-size="12" fill="#555" font-weight="bold" textLength="21.5" lengthAdjust="spacingAndGlyphs">Bsh</text>
<rect x="1535" y="593" width="48" height="14" fill="#0a0ae8"/>
<text x="1537.0" y="604.5" font-size="12" fill="#1a1a9a" font-weight="bold" textLength="19.3" lengthAdjust="spacingAndGlyphs">428</text>
<rect x="20" y="755" width="1" height="2" fill="#777"/>
<text x="22.0" y="767.9" font-size="11.3" fill="#4e4e4e" text-anchor="middle">24</text>
<rect x="48" y="755" width="1" height="2" fill="#777"/>
<text x="49.6" y="767.9" font-size="11.3" fill="#4e4e4e" text-anchor="middle">01</text>
<rect x="75" y="755" width="1" height="2" fill="#777"/>
<text x="77.2" y="767.9" font-size="11.3" fill="#4e4e4e" text-anchor="middle">08</text>
<rect x="103" y="755" width="1" height="2" fill="#777"/>
<text x="104.8" y="767.9" font-size="11.3" fill="#4e4e4e" text-anchor="middle">15</text>
<rect x="130" y="755" width="1" height="2" fill="#777"/>
<text x="132.4" y="767.9" font-size="11.3" fill="#4e4e4e" text-anchor="middle">22</text>
<rect x="158" y="755" width="1" height="2" fill="#777"/>
<text x="160.0" y="767.9" font-size="11.3" fill="#4e4e4e" text-anchor="middle">30</text>
<rect x="180" y="755" width="1" height="2" fill="#777"/>
<text x="182.1" y="767.9" font-size="11.3" fill="#4e4e4e" text-anchor="middle">05</text>
<rect x="208" y="755" width="1" height="2" fill="#777"/>
<text x="209.7" y="767.9" font-size="11.3" fill="#4e4e4e" text-anchor="middle">12</text>
<rect x="235" y="755" width="1" height="2" fill="#777"/>
<text x="237.3" y="767.9" font-size="11.3" fill="#4e4e4e" text-anchor="middle">20</text>
<rect x="257" y="755" width="1" height="2" fill="#777"/>
<text x="259.4" y="767.9" font-size="11.3" fill="#4e4e4e" text-anchor="middle">26</text>
<rect x="285" y="755" width="1" height="2" fill="#777"/>
<text x="287.0" y="767.9" font-size="11.3" fill="#4e4e4e" text-anchor="middle">03</text>
<rect x="307" y="755" width="1" height="2" fill="#777"/>
<text x="309.1" y="767.9" font-size="11.3" fill="#4e4e4e" text-anchor="middle">10</text>
<rect x="335" y="755" width="1" height="2" fill="#777"/>
<text x="336.7" y="767.9" font-size="11.3" fill="#4e4e4e" text-anchor="middle">17</text>
<rect x="362" y="755" width="1" height="2" fill="#777"/>
<text x="364.3" y="767.9" font-size="11.3" fill="#4e4e4e" text-anchor="middle">24</text>
<rect x="390" y="755" width="1" height="2" fill="#777"/>
<text x="391.9" y="767.9" font-size="11.3" fill="#4e4e4e" text-anchor="middle">31</text>
<rect x="417" y="755" width="1" height="2" fill="#777"/>
<text x="419.5" y="767.9" font-size="11.3" fill="#4e4e4e" text-anchor="middle">07</text>
<rect x="445" y="755" width="1" height="2" fill="#777"/>
<text x="447.1" y="767.9" font-size="11.3" fill="#4e4e4e" text-anchor="middle">14</text>
<rect x="473" y="755" width="1" height="2" fill="#777"/>
<text x="474.7" y="767.9" font-size="11.3" fill="#4e4e4e" text-anchor="middle">21</text>
<rect x="500" y="755" width="1" height="2" fill="#777"/>
<text x="502.3" y="767.9" font-size="11.3" fill="#4e4e4e" text-anchor="middle">28</text>
<rect x="528" y="755" width="1" height="2" fill="#777"/>
<text x="529.9" y="767.9" font-size="11.3" fill="#4e4e4e" text-anchor="middle">05</text>
<rect x="550" y="755" width="1" height="2" fill="#777"/>
<text x="552.0" y="767.9" font-size="11.3" fill="#4e4e4e" text-anchor="middle">11</text>
<rect x="577" y="755" width="1" height="2" fill="#777"/>
<text x="579.6" y="767.9" font-size="11.3" fill="#4e4e4e" text-anchor="middle">18</text>
<rect x="605" y="755" width="1" height="2" fill="#777"/>
<text x="607.2" y="767.9" font-size="11.3" fill="#4e4e4e" text-anchor="middle">25</text>
<rect x="633" y="755" width="1" height="2" fill="#777"/>
<text x="634.8" y="767.9" font-size="11.3" fill="#4e4e4e" text-anchor="middle">02</text>
<rect x="660" y="755" width="1" height="2" fill="#777"/>
<text x="662.4" y="767.9" font-size="11.3" fill="#4e4e4e" text-anchor="middle">09</text>
<rect x="688" y="755" width="1" height="2" fill="#777"/>
<text x="690.0" y="767.9" font-size="11.3" fill="#4e4e4e" text-anchor="middle">16</text>
<rect x="715" y="755" width="1" height="2" fill="#777"/>
<text x="717.6" y="767.9" font-size="11.3" fill="#4e4e4e" text-anchor="middle">23</text>
<rect x="743" y="755" width="1" height="2" fill="#777"/>
<text x="745.2" y="767.9" font-size="11.3" fill="#4e4e4e" text-anchor="middle">30</text>
<rect x="771" y="755" width="1" height="2" fill="#777"/>
<text x="772.8" y="767.9" font-size="11.3" fill="#4e4e4e" text-anchor="middle">06</text>
<rect x="798" y="755" width="1" height="2" fill="#777"/>
<text x="800.4" y="767.9" font-size="11.3" fill="#4e4e4e" text-anchor="middle">13</text>
<rect x="826" y="755" width="1" height="2" fill="#777"/>
<text x="828.0" y="767.9" font-size="11.3" fill="#4e4e4e" text-anchor="middle">20</text>
<rect x="848" y="755" width="1" height="2" fill="#777"/>
<text x="850.1" y="767.9" font-size="11.3" fill="#4e4e4e" text-anchor="middle">27</text>
<rect x="876" y="755" width="1" height="2" fill="#777"/>
<text x="877.7" y="767.9" font-size="11.3" fill="#4e4e4e" text-anchor="middle">04</text>
<rect x="903" y="755" width="1" height="2" fill="#777"/>
<text x="905.3" y="767.9" font-size="11.3" fill="#4e4e4e" text-anchor="middle">11</text>
<rect x="931" y="755" width="1" height="2" fill="#777"/>
<text x="932.9" y="767.9" font-size="11.3" fill="#4e4e4e" text-anchor="middle">18</text>
<rect x="958" y="755" width="1" height="2" fill="#777"/>
<text x="960.5" y="767.9" font-size="11.3" fill="#4e4e4e" text-anchor="middle">26</text>
<rect x="980" y="755" width="1" height="2" fill="#777"/>
<text x="982.6" y="767.9" font-size="11.3" fill="#4e4e4e" text-anchor="middle">02</text>
<rect x="1003" y="755" width="1" height="2" fill="#777"/>
<text x="1004.6" y="767.9" font-size="11.3" fill="#4e4e4e" text-anchor="middle">08</text>
<rect x="1030" y="755" width="1" height="2" fill="#777"/>
<text x="1032.3" y="767.9" font-size="11.3" fill="#4e4e4e" text-anchor="middle">16</text>
<rect x="1052" y="755" width="1" height="2" fill="#777"/>
<text x="1054.3" y="767.9" font-size="11.3" fill="#4e4e4e" text-anchor="middle">22</text>
<rect x="1080" y="755" width="1" height="2" fill="#777"/>
<text x="1081.9" y="767.9" font-size="11.3" fill="#4e4e4e" text-anchor="middle">29</text>
<rect x="1107" y="755" width="1" height="2" fill="#777"/>
<text x="1109.5" y="767.9" font-size="11.3" fill="#4e4e4e" text-anchor="middle">05</text>
<rect x="1135" y="755" width="1" height="2" fill="#777"/>
<text x="1137.1" y="767.9" font-size="11.3" fill="#4e4e4e" text-anchor="middle">12</text>
<rect x="1163" y="755" width="1" height="2" fill="#777"/>
<text x="1164.7" y="767.9" font-size="11.3" fill="#4e4e4e" text-anchor="middle">20</text>
<rect x="1185" y="755" width="1" height="2" fill="#777"/>
<text x="1186.8" y="767.9" font-size="11.3" fill="#4e4e4e" text-anchor="middle">26</text>
<rect x="1212" y="755" width="1" height="2" fill="#777"/>
<text x="1214.4" y="767.9" font-size="11.3" fill="#4e4e4e" text-anchor="middle">04</text>
<rect x="1240" y="755" width="1" height="2" fill="#777"/>
<text x="1242.0" y="767.9" font-size="11.3" fill="#4e4e4e" text-anchor="middle">11</text>
<rect x="1268" y="755" width="1" height="2" fill="#777"/>
<text x="1269.6" y="767.9" font-size="11.3" fill="#4e4e4e" text-anchor="middle">18</text>
<rect x="1295" y="755" width="1" height="2" fill="#777"/>
<text x="1297.2" y="767.9" font-size="11.3" fill="#4e4e4e" text-anchor="middle">25</text>
<rect x="1317" y="755" width="1" height="2" fill="#777"/>
<text x="1319.3" y="767.9" font-size="11.3" fill="#4e4e4e" text-anchor="middle">01</text>
<rect x="1345" y="755" width="1" height="2" fill="#777"/>
<text x="1346.9" y="767.9" font-size="11.3" fill="#4e4e4e" text-anchor="middle">08</text>
<rect x="1372" y="755" width="1" height="2" fill="#777"/>
<text x="1374.5" y="767.9" font-size="11.3" fill="#4e4e4e" text-anchor="middle">15</text>
<rect x="1400" y="755" width="1" height="2" fill="#777"/>
<text x="1402.1" y="767.9" font-size="11.3" fill="#4e4e4e" text-anchor="middle">22</text>
<rect x="1428" y="755" width="1" height="2" fill="#777"/>
<text x="1429.7" y="767.9" font-size="11.3" fill="#4e4e4e" text-anchor="middle">29</text>
<rect x="1455" y="755" width="1" height="2" fill="#777"/>
<text x="1457.3" y="767.9" font-size="11.3" fill="#4e4e4e" text-anchor="middle">06</text>
<rect x="1483" y="755" width="1" height="2" fill="#777"/>
<text x="1484.9" y="767.9" font-size="11.3" fill="#4e4e4e" text-anchor="middle">13</text>
<rect x="1510" y="755" width="1" height="2" fill="#777"/>
<text x="1512.5" y="767.9" font-size="11.3" fill="#4e4e4e" text-anchor="middle">20</text>
<rect x="48" y="755" width="1" height="2" fill="#777"/>
<rect x="48" y="772" width="1" height="13" fill="#6a6a6a"/>
<rect x="169" y="755" width="1" height="2" fill="#777"/>
<rect x="169" y="772" width="1" height="13" fill="#6a6a6a"/>
<rect x="285" y="755" width="1" height="2" fill="#777"/>
<rect x="285" y="772" width="1" height="13" fill="#6a6a6a"/>
<rect x="395" y="755" width="1" height="2" fill="#777"/>
<rect x="396" y="772" width="1" height="13" fill="#6a6a6a"/>
<rect x="522" y="755" width="1" height="2" fill="#777"/>
<rect x="523" y="772" width="1" height="13" fill="#6a6a6a"/>
<rect x="633" y="755" width="1" height="2" fill="#777"/>
<rect x="633" y="772" width="1" height="13" fill="#6a6a6a"/>
<rect x="754" y="755" width="1" height="2" fill="#777"/>
<rect x="754" y="772" width="1" height="13" fill="#6a6a6a"/>
<rect x="870" y="755" width="1" height="2" fill="#777"/>
<rect x="870" y="772" width="1" height="13" fill="#6a6a6a"/>
<rect x="980" y="755" width="1" height="2" fill="#777"/>
<rect x="981" y="772" width="1" height="13" fill="#6a6a6a"/>
<rect x="1096" y="755" width="1" height="2" fill="#777"/>
<rect x="1097" y="772" width="1" height="13" fill="#6a6a6a"/>
<rect x="1207" y="755" width="1" height="2" fill="#777"/>
<rect x="1207" y="772" width="1" height="13" fill="#6a6a6a"/>
<rect x="1317" y="755" width="1" height="2" fill="#777"/>
<rect x="1318" y="772" width="1" height="13" fill="#6a6a6a"/>
<rect x="1439" y="755" width="1" height="2" fill="#777"/>
<rect x="1439" y="772" width="1" height="13" fill="#6a6a6a"/>
<text x="26.7" y="782.2" font-size="12" fill="#474747" font-weight="bold" text-anchor="middle">Apr 23</text>
<text x="108.7" y="782.2" font-size="12" fill="#474747" font-weight="bold" text-anchor="middle">May 23</text>
<text x="227.4" y="782.2" font-size="12" fill="#474747" font-weight="bold" text-anchor="middle">Jun 23</text>
<text x="340.6" y="782.2" font-size="12" fill="#474747" font-weight="bold" text-anchor="middle">Jul 23</text>
<text x="459.3" y="782.2" font-size="12" fill="#474747" font-weight="bold" text-anchor="middle">Aug 23</text>
<text x="578.0" y="782.2" font-size="12" fill="#474747" font-weight="bold" text-anchor="middle">Sep 23</text>
<text x="693.9" y="782.2" font-size="12" fill="#474747" font-weight="bold" text-anchor="middle">Oct 23</text>
<text x="812.6" y="782.2" font-size="12" fill="#474747" font-weight="bold" text-anchor="middle">Nov 23</text>
<text x="925.8" y="782.2" font-size="12" fill="#474747" font-weight="bold" text-anchor="middle">Dec 23</text>
<text x="1038.9" y="782.2" font-size="12" fill="#474747" font-weight="bold" text-anchor="middle">Jan 24</text>
<text x="1152.1" y="782.2" font-size="12" fill="#474747" font-weight="bold" text-anchor="middle">Feb 24</text>
<text x="1262.5" y="782.2" font-size="12" fill="#474747" font-weight="bold" text-anchor="middle">Mar 24</text>
<text x="1378.4" y="782.2" font-size="12" fill="#474747" font-weight="bold" text-anchor="middle">Apr 24</text>
<text x="1486.6" y="782.2" font-size="12" fill="#474747" font-weight="bold" text-anchor="middle">May 24</text>
<rect x="1" y="785" width="1583" height="17" fill="#f3f3f3"/>
<rect x="2" y="786" width="17" height="15" fill="#d3d3d3"/>
<rect x="36" y="786" width="1512" height="15" fill="#c9c9c9"/>
<rect x="1566" y="786" width="17" height="15" fill="#d3d3d3"/>
<polyline points="9.6,790 6,793.5 9.6,797" fill="none" stroke="#000" stroke-width="1.8" stroke-linecap="butt" stroke-linejoin="miter"/>
<polyline points="13.9,790 10.3,793.5 13.9,797" fill="none" stroke="#000" stroke-width="1.8" stroke-linecap="butt" stroke-linejoin="miter"/>
<polyline points="28.8,790 25.1,793.5 28.8,797" fill="none" stroke="#555" stroke-width="1.8" stroke-linecap="butt" stroke-linejoin="miter"/>
<polyline points="1555,790 1558.8,793.5 1555,797" fill="none" stroke="#555" stroke-width="1.8" stroke-linecap="butt" stroke-linejoin="miter"/>
<polyline points="1571.2,790 1574.8,793.5 1571.2,797" fill="none" stroke="#000" stroke-width="1.8" stroke-linecap="butt" stroke-linejoin="miter"/>
<polyline points="1575.4,790 1579,793.5 1575.4,797" fill="none" stroke="#000" stroke-width="1.8" stroke-linecap="butt" stroke-linejoin="miter"/>
<rect x="1169" y="789.5" width="77" height="8.5" fill="#f7f7f7"/>
<text x="1170.5" y="797" style="font-family:Liberation Mono,monospace" font-size="9.5" font-weight="bold" fill="#111" textLength="75" lengthAdjust="spacingAndGlyphs">277 Data Period</text>
<rect x="1192.6" y="195.6" width="40.4" height="12" fill="url(#cbg)"/>
<text x="1193.6" y="206.3" font-size="13" fill="#781a1a" font-weight="bold" textLength="38.4" lengthAdjust="spacingAndGlyphs" stroke="#781a1a" stroke-width="0.25">0.0%</text>
<rect x="1254.6" y="195.6" width="58.8" height="12" fill="url(#cbg)"/>
<text x="1255.6" y="206.3" font-size="13" fill="#781a1a" font-weight="bold" textLength="56.8" lengthAdjust="spacingAndGlyphs" stroke="#781a1a" stroke-width="0.25">582 3/4</text>
<rect x="1192.6" y="564.4" width="58.0" height="12" fill="url(#cbg)"/>
<text x="1193.6" y="575.1" font-size="13" fill="#781a1a" font-weight="bold" textLength="56.0" lengthAdjust="spacingAndGlyphs" stroke="#781a1a" stroke-width="0.25">100.0%</text>
<rect x="1254.6" y="564.4" width="59.3" height="12" fill="url(#cbg)"/>
<text x="1255.6" y="575.1" font-size="13" fill="#781a1a" font-weight="bold" textLength="57.3" lengthAdjust="spacingAndGlyphs" stroke="#781a1a" stroke-width="0.25">439 1/2</text>
<rect x="1192.6" y="590.8" width="58.0" height="12" fill="url(#cbg)"/>
<text x="1193.6" y="601.5" font-size="13" fill="#781a1a" font-weight="bold" textLength="56.0" lengthAdjust="spacingAndGlyphs" stroke="#781a1a" stroke-width="0.25">107.0%</text>
<rect x="1254.6" y="590.8" width="69.8" height="12" fill="url(#cbg)"/>
<text x="1255.6" y="601.5" font-size="13" fill="#781a1a" font-weight="bold" textLength="67.8" lengthAdjust="spacingAndGlyphs" stroke="#781a1a" stroke-width="0.25">429 1/4+</text>
<rect x="1192.6" y="618.5" width="58.0" height="12" fill="url(#cbg)"/>
<text x="1193.6" y="629.2" font-size="13" fill="#781a1a" font-weight="bold" textLength="56.0" lengthAdjust="spacingAndGlyphs" stroke="#781a1a" stroke-width="0.25">114.6%</text>
<rect x="1254.6" y="618.5" width="69.8" height="12" fill="url(#cbg)"/>
<text x="1255.6" y="629.2" font-size="13" fill="#781a1a" font-weight="bold" textLength="67.8" lengthAdjust="spacingAndGlyphs" stroke="#781a1a" stroke-width="0.25">418 1/2+</text>
<rect x="1192.6" y="651.9" width="58.0" height="12" fill="url(#cbg)"/>
<text x="1193.6" y="662.6" font-size="13" fill="#781a1a" font-weight="bold" textLength="56.0" lengthAdjust="spacingAndGlyphs" stroke="#781a1a" stroke-width="0.25">123.6%</text>
<rect x="1254.6" y="651.9" width="69.8" height="12" fill="url(#cbg)"/>
<text x="1255.6" y="662.6" font-size="13" fill="#781a1a" font-weight="bold" textLength="67.8" lengthAdjust="spacingAndGlyphs" stroke="#781a1a" stroke-width="0.25">405 1/2+</text>
<rect x="1192.6" y="705.3" width="58.0" height="12" fill="url(#cbg)"/>
<text x="1193.6" y="716.0" font-size="13" fill="#781a1a" font-weight="bold" textLength="56.0" lengthAdjust="spacingAndGlyphs" stroke="#781a1a" stroke-width="0.25">138.2%</text>
<rect x="1254.6" y="705.3" width="69.8" height="12" fill="url(#cbg)"/>
<text x="1255.6" y="716.0" font-size="13" fill="#781a1a" font-weight="bold" textLength="67.8" lengthAdjust="spacingAndGlyphs" stroke="#781a1a" stroke-width="0.25">384 3/4+</text>
<text x="1340.0" y="435.7" font-size="12" fill="#1c1c1c" font-weight="bold" textLength="34.3" lengthAdjust="spacingAndGlyphs" stroke="#1c1c1c" stroke-width="0.25">0.0%</text>
<text x="1395.4" y="435.7" font-size="12" fill="#1c1c1c" font-weight="bold" textLength="51.9" lengthAdjust="spacingAndGlyphs" stroke="#1c1c1c" stroke-width="0.25">493 3/4</text>
<text x="1340.0" y="466.6" font-size="12" fill="#1c1c1c" font-weight="bold" textLength="42.9" lengthAdjust="spacingAndGlyphs" stroke="#1c1c1c" stroke-width="0.25">23.6%</text>
<text x="1395.4" y="466.6" font-size="12" fill="#1c1c1c" font-weight="bold" textLength="61.2" lengthAdjust="spacingAndGlyphs" stroke="#1c1c1c" stroke-width="0.25">481 1/2+</text>
<text x="1340.0" y="485.3" font-size="12" fill="#1c1c1c" font-weight="bold" textLength="42.9" lengthAdjust="spacingAndGlyphs" stroke="#1c1c1c" stroke-width="0.25">38.2%</text>
<text x="1395.4" y="485.3" font-size="12" fill="#1c1c1c" font-weight="bold" textLength="61.2" lengthAdjust="spacingAndGlyphs" stroke="#1c1c1c" stroke-width="0.25">474 1/4+</text>
<text x="1340.0" y="501.3" font-size="12" fill="#1c1c1c" font-weight="bold" textLength="42.9" lengthAdjust="spacingAndGlyphs" stroke="#1c1c1c" stroke-width="0.25">50.0%</text>
<text x="1395.4" y="501.3" font-size="12" fill="#1c1c1c" font-weight="bold" textLength="51.9" lengthAdjust="spacingAndGlyphs" stroke="#1c1c1c" stroke-width="0.25">468 1/4</text>
<text x="1340.0" y="516.7" font-size="12" fill="#1c1c1c" font-weight="bold" textLength="42.9" lengthAdjust="spacingAndGlyphs" stroke="#1c1c1c" stroke-width="0.25">61.8%</text>
<text x="1395.4" y="516.7" font-size="12" fill="#1c1c1c" font-weight="bold" textLength="33.3" lengthAdjust="spacingAndGlyphs" stroke="#1c1c1c" stroke-width="0.25">462+</text>
<text x="1340.0" y="535.3" font-size="12" fill="#1c1c1c" font-weight="bold" textLength="42.9" lengthAdjust="spacingAndGlyphs" stroke="#1c1c1c" stroke-width="0.25">76.4%</text>
<text x="1395.4" y="535.3" font-size="12" fill="#1c1c1c" font-weight="bold" textLength="61.2" lengthAdjust="spacingAndGlyphs" stroke="#1c1c1c" stroke-width="0.25">454 3/4+</text>
<text x="1340.0" y="549.3" font-size="12" fill="#1c1c1c" font-weight="bold" textLength="42.9" lengthAdjust="spacingAndGlyphs" stroke="#1c1c1c" stroke-width="0.25">86.4%</text>
<text x="1395.4" y="549.3" font-size="12" fill="#1c1c1c" font-weight="bold" textLength="61.2" lengthAdjust="spacingAndGlyphs" stroke="#1c1c1c" stroke-width="0.25">449 1/2+</text>
<text x="1340.0" y="567.3" font-size="12" fill="#1c1c1c" font-weight="bold" textLength="50.8" lengthAdjust="spacingAndGlyphs" stroke="#1c1c1c" stroke-width="0.25">100.0%</text>
<text x="1395.4" y="567.3" font-size="12" fill="#1c1c1c" font-weight="bold" textLength="51.9" lengthAdjust="spacingAndGlyphs" stroke="#1c1c1c" stroke-width="0.25">442 3/4</text>
<text x="1340.0" y="616.8" font-size="12" fill="#1c1c1c" font-weight="bold" textLength="50.8" lengthAdjust="spacingAndGlyphs" stroke="#1c1c1c" stroke-width="0.25">138.2%</text>
<text x="1395.4" y="616.8" font-size="12" fill="#1c1c1c" font-weight="bold" textLength="61.2" lengthAdjust="spacingAndGlyphs" stroke="#1c1c1c" stroke-width="0.25">423 1/4+</text>
<text x="1340.0" y="647.8" font-size="12" fill="#1c1c1c" font-weight="bold" textLength="50.8" lengthAdjust="spacingAndGlyphs" stroke="#1c1c1c" stroke-width="0.25">161.8%</text>
<text x="1395.4" y="647.8" font-size="12" fill="#1c1c1c" font-weight="bold" textLength="33.3" lengthAdjust="spacingAndGlyphs" stroke="#1c1c1c" stroke-width="0.25">411+</text>
<text x="362.8" y="183.0" font-size="17" fill="#000" font-weight="bold" textLength="10.5" lengthAdjust="spacingAndGlyphs">B</text>
<text x="322.7" y="458.7" font-size="17" fill="#000" font-weight="bold" textLength="11.8" lengthAdjust="spacingAndGlyphs">A</text>
<text x="887.2" y="421.0" font-size="16" fill="#000" font-weight="bold" textLength="8.4" lengthAdjust="spacingAndGlyphs">b</text>
<text x="853.2" y="509.3" font-size="16" fill="#000" font-weight="bold" textLength="8.0" lengthAdjust="spacingAndGlyphs">a</text>
<text x="1129.4" y="668.0" font-size="16" fill="#000" font-weight="bold" textLength="8.2" lengthAdjust="spacingAndGlyphs">c</text>
<text x="1163.0" y="671.0" font-size="17" fill="#000" font-weight="bold" textLength="10.5" lengthAdjust="spacingAndGlyphs">C</text>
<path d="M1152.4,597 Q1152.6,595.2 1156.2,595.2 Q1159.8,595.2 1159.9,597 L1161.6,616.3 L1168.2,616 L1160,639.6 L1147.1,617.6 L1153.8,617.1 Z" fill="#ef3b3b"/>
</svg>
</body></html>
